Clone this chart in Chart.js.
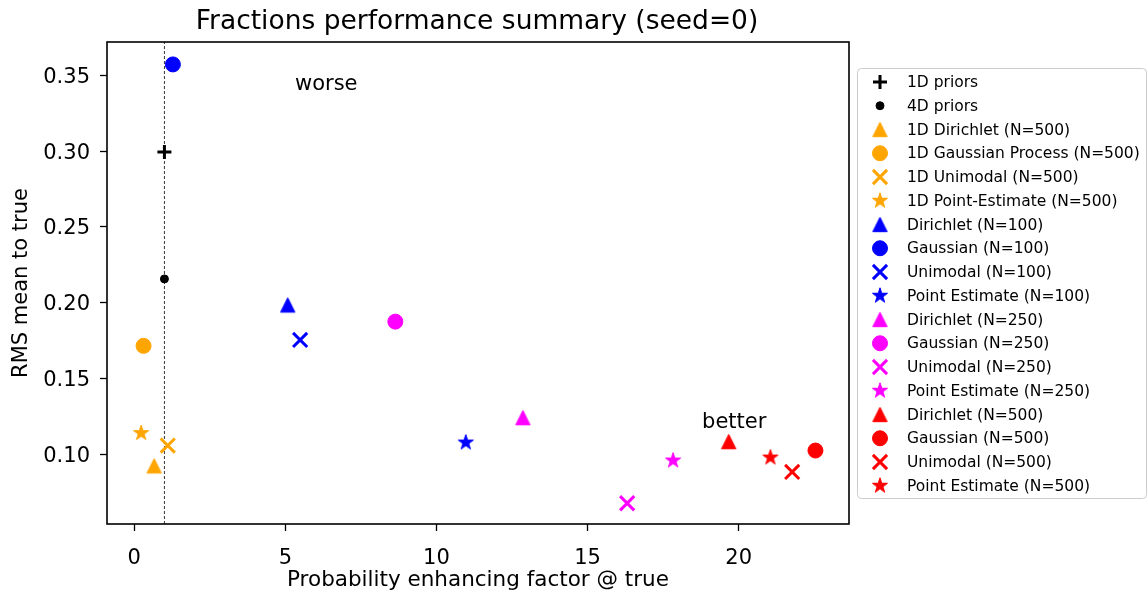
<!DOCTYPE html>
<html>
<head>
<meta charset="utf-8">
<title>Fractions performance summary (seed=0)</title>
<script src="https://cdn.jsdelivr.net/npm/chart.js@4.4.0/dist/chart.umd.min.js"></script>
<style>
  html, body { margin: 0; padding: 0; background: #fff; }
  #chart-wrap { width: 1148px; height: 596px; }
</style>
</head>
<body>
<div id="chart-wrap"><canvas id="summary-chart" width="1148" height="596"></canvas></div>
<script>
// Values
const seriesLabels = [
    '1D priors', '4D priors',
    '1D Dirichlet (N=500)', '1D Gaussian Process (N=500)', '1D Unimodal (N=500)', '1D Point-Estimate (N=500)',
    'Dirichlet (N=100)', 'Gaussian (N=100)', 'Unimodal (N=100)', 'Point Estimate (N=100)',
    'Dirichlet (N=250)', 'Gaussian (N=250)', 'Unimodal (N=250)', 'Point Estimate (N=250)',
    'Dirichlet (N=500)', 'Gaussian (N=500)', 'Unimodal (N=500)', 'Point Estimate (N=500)'
];
// Probability enhancing factor @ true
const xValues = [1.0, 1.0, 0.66, 0.31, 1.11, 0.23, 5.08, 1.28, 5.49, 10.97, 12.86, 8.64, 16.31, 17.83, 19.67, 22.54, 21.77, 21.05];
// RMS mean to true
const yValues = [0.2994, 0.2157, 0.0923, 0.1715, 0.1057, 0.1139, 0.1985, 0.3573, 0.1754, 0.1077, 0.1241, 0.1875, 0.0676, 0.0958, 0.1083, 0.1024, 0.0883, 0.0978];

const seriesColors = ['#000000', '#000000',
    '#ffa500', '#ffa500', '#ffa500', '#ffa500',
    '#0000ff', '#0000ff', '#0000ff', '#0000ff',
    '#ff00ff', '#ff00ff', '#ff00ff', '#ff00ff',
    '#ff0000', '#ff0000', '#ff0000', '#ff0000'];
const seriesMarkers = ['plus', 'dot',
    'triangle', 'circle', 'x', 'star',
    'triangle', 'circle', 'x', 'star',
    'triangle', 'circle', 'x', 'star',
    'triangle', 'circle', 'x', 'star'];

const priorLineX = 1;
const xTicks = [0, 5, 10, 15, 20];
const yTicks = [0.10, 0.15, 0.20, 0.25, 0.30, 0.35];
const xRange = [-0.90, 23.65];
const yRange = [0.0539, 0.3721];

const noteTexts = ['worse', 'better'];
const noteX = [5.32, 18.79];
const noteY = [0.3401, 0.1172];

const FONT = 'DejaVu Sans';

// Matplotlib-like star and triangle markers, drawn on small canvases
function starCanvas(color, r) {
    const size = Math.ceil(2 * r + 4);
    const c = document.createElement('canvas');
    c.width = size;
    c.height = size;
    const g = c.getContext('2d');
    const mid = size / 2;
    g.beginPath();
    for (let i = 0; i < 10; i++) {
        const rad = i % 2 === 0 ? r : r * 0.381966;
        const a = -Math.PI / 2 + i * Math.PI / 5;
        const px = mid + rad * Math.cos(a);
        const py = mid + rad * Math.sin(a);
        if (i === 0) g.moveTo(px, py); else g.lineTo(px, py);
    }
    g.closePath();
    g.fillStyle = color;
    g.fill();
    g.strokeStyle = color;
    g.lineWidth = 1;
    g.stroke();
    return c;
}

function triangleCanvas(color, h) {
    const size = Math.ceil(2 * h + 4);
    const c = document.createElement('canvas');
    c.width = size;
    c.height = size;
    const g = c.getContext('2d');
    const mid = size / 2;
    g.beginPath();
    g.moveTo(mid, mid - h);
    g.lineTo(mid + h, mid + h);
    g.lineTo(mid - h, mid + h);
    g.closePath();
    g.fillStyle = color;
    g.fill();
    g.strokeStyle = color;
    g.lineWidth = 1;
    g.stroke();
    return c;
}

function markerFor(kind, color) {
    switch (kind) {
        case 'plus':
            return { style: 'cross', radius: 7, width: 3 };
        case 'dot':
            return { style: 'circle', radius: 4, width: 1 };
        case 'circle':
            return { style: 'circle', radius: 7.5, width: 1 };
        case 'x':
            return { style: 'crossRot', radius: 10, width: 3 };
        case 'star':
            return { style: starCanvas(color, 8), radius: 8, width: 0 };
        case 'triangle':
            return { style: triangleCanvas(color, 7.2), radius: 8, width: 0 };
        default:
            return { style: 'circle', radius: 5, width: 1 };
    }
}

const markers = seriesLabels.map((_, i) => markerFor(seriesMarkers[i], seriesColors[i]));

const datasets = seriesLabels.map((label, i) => ({
    label: label,
    data: [{ x: xValues[i], y: yValues[i] }],
    pointStyle: markers[i].style,
    pointRadius: markers[i].radius,
    pointBorderWidth: markers[i].width,
    pointBackgroundColor: seriesColors[i],
    pointBorderColor: seriesColors[i],
    showLine: false,
    order: 0
}));

// dashed reference line at x = 1
datasets.push({
    label: 'priorLine',
    data: [{ x: priorLineX, y: yRange[0] }, { x: priorLineX, y: yRange[1] }],
    showLine: true,
    borderColor: '#000',
    borderWidth: 0.8,
    borderDash: [3, 2],
    pointRadius: 0,
    order: 1
});

// Title, notes, frame and legend box
const decorations = {
    id: 'decorations',
    afterDraw(chart) {
        const ctx = chart.ctx;
        const area = chart.chartArea;
        const xs = chart.scales.x;
        const ys = chart.scales.y;

        ctx.save();
        // frame
        ctx.strokeStyle = '#000';
        ctx.lineWidth = 1.6;
        ctx.strokeRect(area.left, area.top, area.right - area.left, area.bottom - area.top);

        // title
        ctx.fillStyle = '#000';
        ctx.font = '26.5px "' + FONT + '"';
        ctx.textAlign = 'center';
        ctx.textBaseline = 'alphabetic';
        ctx.fillText('Fractions performance summary (seed=0)', (area.left + area.right) / 2 - 1, 29);

        // worse / better notes
        ctx.font = '21px "' + FONT + '"';
        ctx.textAlign = 'left';
        noteTexts.forEach((t, i) => {
            ctx.fillText(t, xs.getPixelForValue(noteX[i]), ys.getPixelForValue(noteY[i]));
        });

        // legend
        const boxLeft = area.right + 8;
        const boxW = 289;
        const boxH = 430;
        const boxTop = (area.top + area.bottom) / 2 - boxH / 2;
        ctx.beginPath();
        ctx.roundRect(boxLeft + 0.5, boxTop + 0.5, boxW, boxH, 4);
        ctx.fillStyle = 'rgba(255,255,255,0.8)';
        ctx.fill();
        ctx.strokeStyle = '#cccccc';
        ctx.lineWidth = 1;
        ctx.stroke();

        ctx.font = '15.5px "' + FONT + '"';
        ctx.textBaseline = 'middle';
        seriesLabels.forEach((label, i) => {
            const cy = boxTop + 14 + i * 23.75;
            const mx = boxLeft + 23;
            ctx.fillStyle = seriesColors[i];
            ctx.strokeStyle = seriesColors[i];
            ctx.lineWidth = markers[i].width;
            Chart.helpers.drawPoint(ctx, {
                pointStyle: markers[i].style,
                radius: markers[i].radius,
                borderWidth: markers[i].width,
                rotation: 0
            }, mx, cy);
            ctx.fillStyle = '#000';
            ctx.fillText(label, boxLeft + 50, cy + 1);
        });
        ctx.restore();
    }
};

Chart.defaults.font.family = FONT;
Chart.defaults.color = '#000';

const chart = new Chart(document.getElementById('summary-chart').getContext('2d'), {
    type: 'scatter',
    data: { datasets: datasets },
    options: {
        responsive: false,
        animation: false,
        events: [],
        devicePixelRatio: 1,
        layout: { padding: { left: 0, top: 42, right: 299, bottom: 0 } },
        plugins: {
            legend: { display: false },
            title: { display: false },
            tooltip: { enabled: false }
        },
        scales: {
            x: {
                type: 'linear',
                min: xRange[0],
                max: xRange[1],
                afterBuildTicks: s => { s.ticks = xTicks.map(v => ({ value: v })); },
                afterFit: s => { s.height = 72; },
                grid: { display: true, drawOnChartArea: false, drawTicks: true, tickLength: 7, tickWidth: 1.3, tickColor: '#000' },
                border: { display: false },
                ticks: { color: '#000', font: { size: 21 }, padding: 15, maxRotation: 0, callback: v => String(v) },
                title: { display: true, text: 'Probability enhancing factor @ true', color: '#000', font: { size: 21.5 }, padding: { top: 0, bottom: 3 } }
            },
            y: {
                type: 'linear',
                min: yRange[0],
                max: yRange[1],
                afterBuildTicks: s => { s.ticks = yTicks.map(v => ({ value: v })); },
                afterFit: s => { s.width = 107; },
                grid: { display: true, drawOnChartArea: false, drawTicks: true, tickLength: 7, tickWidth: 1.3, tickColor: '#000' },
                border: { display: false },
                ticks: { color: '#000', font: { size: 21 }, padding: 10, labelOffset: 2, callback: v => v.toFixed(2) },
                title: { display: true, text: 'RMS mean to true', color: '#000', font: { size: 21 }, padding: { top: 9, bottom: 0 } }
            }
        }
    },
    plugins: [decorations]
});
</script>
</body>
</html>
